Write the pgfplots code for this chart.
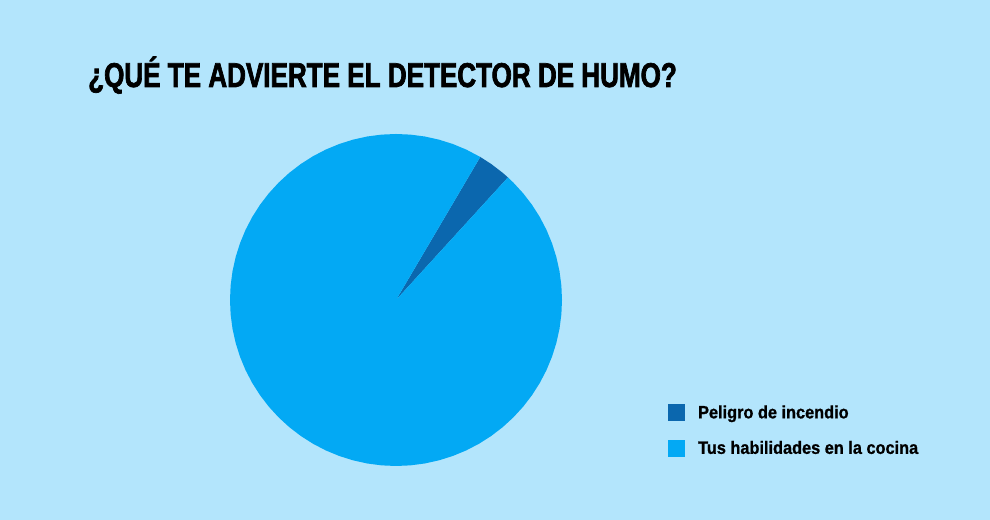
\documentclass[border=0pt]{standalone}
\usepackage{pgfplots}
\pgfplotsset{compat=1.18}
\usepackage{fontspec}
\setmainfont{Liberation Sans}
\newfontfamily\titlefont[FakeStretch=0.758,FakeBold=2]{Liberation Sans}
\newfontfamily\legfont[FakeStretch=0.91,FakeBold=1]{Liberation Sans}

\definecolor{bg}{HTML}{B3E5FC}
\definecolor{cocina}{HTML}{03A9F4}
\definecolor{incendio}{HTML}{0B67AE}

\begin{document}
\begin{tikzpicture}[x=1bp,y=1bp]
\fill[bg] (0,0) rectangle (990,520);
\useasboundingbox (0,0) rectangle (990,520);

\node[anchor=base west, inner sep=0pt,
      font=\titlefont\bfseries\fontsize{34.5}{34.5}\selectfont]
  at (88,433) {¿QUÉ TE ADVIERTE EL DETECTOR DE HUMO?};

% pie: 3.3 % / 96.7 %, angles in degrees, radius 1
\begin{axis}[
    at={(396bp,220bp)}, anchor=center,
    width=332bp, height=332bp, scale only axis,
    xmin=-1, xmax=1, ymin=-1, ymax=1,
    hide axis, clip=false,
    data cs=polar,
    legend image code/.code={\fill[#1] (0bp,-8.5bp) rectangle (17bp,8.5bp);},
    legend style={at={(1.319,0.187)}, anchor=north west,
        draw=none, fill=none, inner sep=0pt, row sep=18.5bp,
        font=\legfont\bfseries\fontsize{18}{18}\selectfont,
        nodes={inner xsep=13bp, inner ysep=0pt}},
    legend cell align=left,
]
\addplot[fill=incendio, draw=none] coordinates {
  (0,0) (47.6,1) (50,1) (55,1) (59.5,1)
} -- cycle;
\addlegendentry{Peligro de incendio}

\addplot[fill=cocina, draw=none] coordinates {
  (0,0) (59.5,1) (65,1) (70,1) (75,1) (80,1) (85,1) (90,1) (95,1)
  (100,1) (105,1) (110,1) (115,1) (120,1) (125,1) (130,1) (135,1)
  (140,1) (145,1) (150,1) (155,1) (160,1) (165,1) (170,1) (175,1)
  (180,1) (185,1) (190,1) (195,1) (200,1) (205,1) (210,1) (215,1)
  (220,1) (225,1) (230,1) (235,1) (240,1) (245,1) (250,1) (255,1)
  (260,1) (265,1) (270,1) (275,1) (280,1) (285,1) (290,1) (295,1)
  (300,1) (305,1) (310,1) (315,1) (320,1) (325,1) (330,1) (335,1)
  (340,1) (345,1) (350,1) (355,1) (360,1) (365,1) (370,1) (375,1)
  (380,1) (385,1) (390,1) (395,1) (400,1) (405,1) (407.6,1)
} -- cycle;
\addlegendentry{Tus habilidades en la cocina}
\end{axis}
\end{tikzpicture}
\end{document}
